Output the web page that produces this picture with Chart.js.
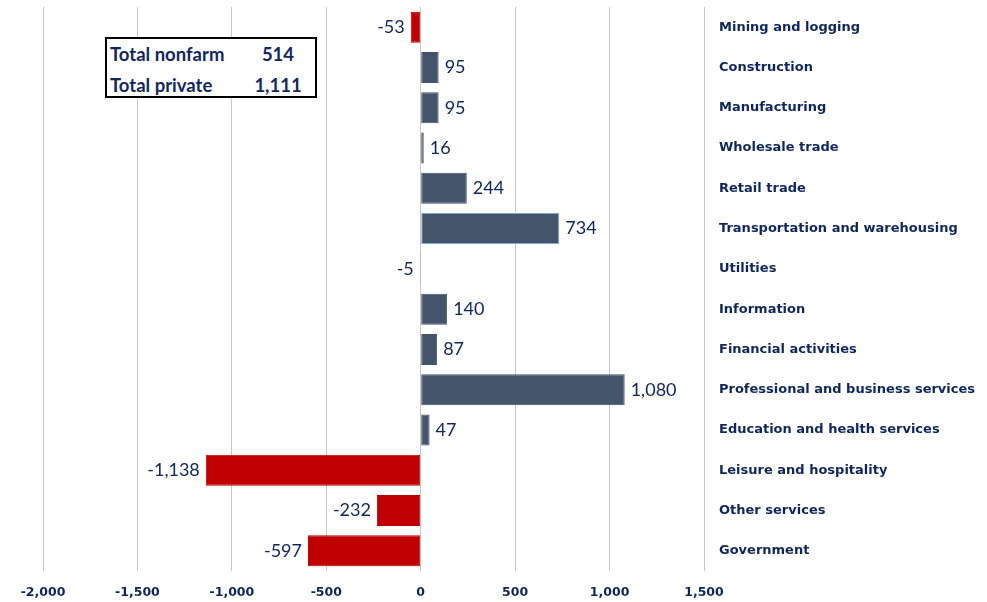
<!DOCTYPE html>
<html>
<head>
<meta charset="utf-8">
<script src="https://cdn.jsdelivr.net/npm/chart.js@4"></script>
<style>
  html, body { margin:0; padding:0; background:#fff; }
  #wrap { position:relative; width:987px; height:602px; }
  #totals { position:absolute; left:105px; top:37px; width:208px; height:57px; border:2px solid #000;
    font-family:Lato, sans-serif; font-weight:bold; font-size:18.5px; color:#13275E; background:#fff; }
  #totals div { position:absolute; left:3px; }
  #totals span { position:absolute; left:145px; width:52px; text-align:center; }
</style>
</head>
<body>
<div id="wrap">
  <canvas id="c" width="987" height="602"></canvas>
  <div id="totals">
    <div style="top:4px">Total nonfarm</div><span style="top:4px">514</span>
    <div style="top:35px">Total private</div><span style="top:35px">1,111</span>
  </div>
</div>
<script>
const categories = ['Mining and logging','Construction','Manufacturing','Wholesale trade','Retail trade',
  'Transportation and warehousing','Utilities','Information','Financial activities',
  'Professional and business services','Education and health services','Leisure and hospitality',
  'Other services','Government'];
const changes = [-53, 95, 95, 16, 244, 734, -5, 140, 87, 1080, 47, -1138, -232, -597];
const xMin = -2000, xMax = 1500, xStep = 500;

const navy = '#10255E';
const red = '#C00000', slate = '#44546A';
// Utilities (-5) shows as a hairline in slate in the original
const barColors = [red, slate, slate, slate, slate, slate, slate, slate, slate, slate, slate, red, red, red];
const borderColors = categories.map((c, i) => c === 'Transportation and warehousing' ? '#7FA8D8' : barColors[i]);

const fmtNum = v => v.toLocaleString('en-US');

// value labels next to bar ends
const valueLabels = {
  id: 'valueLabels',
  afterDatasetsDraw(chart){
    const ctx = chart.ctx, meta = chart.getDatasetMeta(0);
    ctx.save();
    ctx.font = '18px Lato, sans-serif';
    ctx.fillStyle = navy;
    ctx.textBaseline = 'middle';
    meta.data.forEach((bar, i)=>{
      const v = changes[i];
      if(v < 0){ ctx.textAlign = 'right'; ctx.fillText(fmtNum(v), bar.x - 6, bar.y); }
      else { ctx.textAlign = 'left'; ctx.fillText(fmtNum(v), bar.x + 6, bar.y); }
    });
    ctx.restore();
  }
};

new Chart(document.getElementById('c'), {
  type: 'bar',
  data: { labels: categories, datasets: [{
    data: changes, backgroundColor: barColors, borderColor: borderColors, borderWidth: 1,
    borderSkipped: false, barPercentage: 0.77, categoryPercentage: 1
  }]},
  options: {
    indexAxis: 'y', responsive:false, animation:false,
    layout: { padding: { left: 43, top: 7, right: 0, bottom: 0 } },
    plugins: { legend:{display:false}, tooltip:{enabled:false} },
    scales: {
      x: {
        min: xMin, max: xMax,
        ticks: { stepSize: xStep, padding: 14, color: navy,
          font: { family:'DejaVu Sans', weight:'bold', size:12.5 },
          callback: v => fmtNum(v) },
        grid: { color:'#C8C8C8', drawTicks:false },
        border: { display:false },
        afterFit: s => { s.height = 31; s.paddingLeft = 0; s.paddingRight = 0; }
      },
      y: {
        position: 'right',
        ticks: { padding: 15, color: navy, font: { family:'DejaVu Sans', weight:'bold', size:13 } },
        grid: { display:false, drawTicks:false },
        border: { display:false },
        afterFit: s => { s.width = 283; s.paddingTop = 0; s.paddingBottom = 0; }
      }
    }
  },
  plugins: [valueLabels]
});
</script>
</body>
</html>
